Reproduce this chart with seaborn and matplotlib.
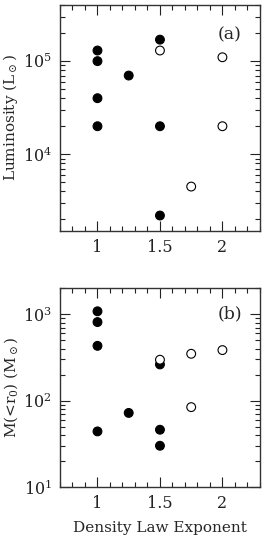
import numpy as np
import pandas as pd
import matplotlib
matplotlib.use("Agg")
import matplotlib.pyplot as plt
import seaborn as sns
from matplotlib.ticker import LogLocator, MultipleLocator, FixedLocator, NullFormatter

# 数据 (a) 光度
lum_x = [1, 1, 1, 1, 1.25, 1.5, 1.5, 1.5, 1.5, 1.75, 2, 2]
lum_y = [1.3e5, 1.0e5, 4.0e4, 2.0e4, 7.0e4, 1.7e5, 2.0e4, 2.2e3, 1.3e5, 4.5e3, 1.1e5, 2.0e4]
lum_kind = ["filled"] * 8 + ["open"] * 4

# 数据 (b) 质量
mass_x = [1, 1, 1, 1, 1.25, 1.5, 1.5, 1.5, 1.5, 1.75, 1.75, 2]
mass_y = [1080, 810, 430, 44, 72, 262, 46, 30, 297, 348, 84, 384]
mass_kind = ["filled"] * 8 + ["open"] * 4

x_ticks = [1, 1.5, 2]
x_labels = ["1", "1.5", "2"]

sns.set_style("ticks")
plt.rcParams["font.family"] = ["DejaVu Serif"]
plt.rcParams["mathtext.fontset"] = "dejavuserif"
plt.rcParams["font.size"] = 10

fig = plt.figure(figsize=(2.62, 5.36), dpi=100)
ax1 = fig.add_axes([0.229, 0.569, 0.763, 0.4216])
ax2 = fig.add_axes([0.229, 0.0914, 0.763, 0.371])

palette = {"filled": "black", "open": "white"}


def draw(ax, xs, ys, kinds, ylim, ylabel, tag):
    df = pd.DataFrame({"x": xs, "y": ys, "kind": kinds})
    sns.scatterplot(data=df, x="x", y="y", hue="kind", palette=palette,
                    edgecolor="black", linewidth=0.8, s=40, legend=False, ax=ax)
    ax.set_yscale("log")
    ax.set_xlim(0.7, 2.3)
    ax.set_ylim(*ylim)
    ax.xaxis.set_major_locator(FixedLocator(x_ticks))
    ax.set_xticklabels(x_labels)
    ax.xaxis.set_minor_locator(MultipleLocator(0.1))
    ax.yaxis.set_major_locator(LogLocator(base=10))
    ax.yaxis.set_minor_locator(LogLocator(base=10, subs=np.arange(2, 10)))
    ax.yaxis.set_minor_formatter(NullFormatter())
    ax.tick_params(which="both", direction="in", top=True, right=True,
                   width=0.8, labelsize=11.5, colors="#222222")
    ax.tick_params(which="major", length=7, pad=6)
    ax.tick_params(which="minor", length=3.5)
    for sp in ax.spines.values():
        sp.set_linewidth(1.0)
        sp.set_color("#333333")
    ax.set_xlabel("")
    ax.set_ylabel(ylabel, fontsize=11)
    ax.yaxis.set_label_coords(-0.2, 0.5)
    ax.text(0.85, 0.87, tag, transform=ax.transAxes, ha="center", va="center", fontsize=12.5)


draw(ax1, lum_x, lum_y, lum_kind, (1.5e3, 4e5), r"Luminosity (L$_\odot$)", "(a)")
draw(ax2, mass_x, mass_y, mass_kind, (10, 2000), r"M(<r$_0$) (M$_\odot$)", "(b)")
ax2.set_xlabel("Density Law Exponent", fontsize=11)
ax2.xaxis.set_label_coords(0.5, -0.17)

fig.savefig("out.png", dpi=100)
